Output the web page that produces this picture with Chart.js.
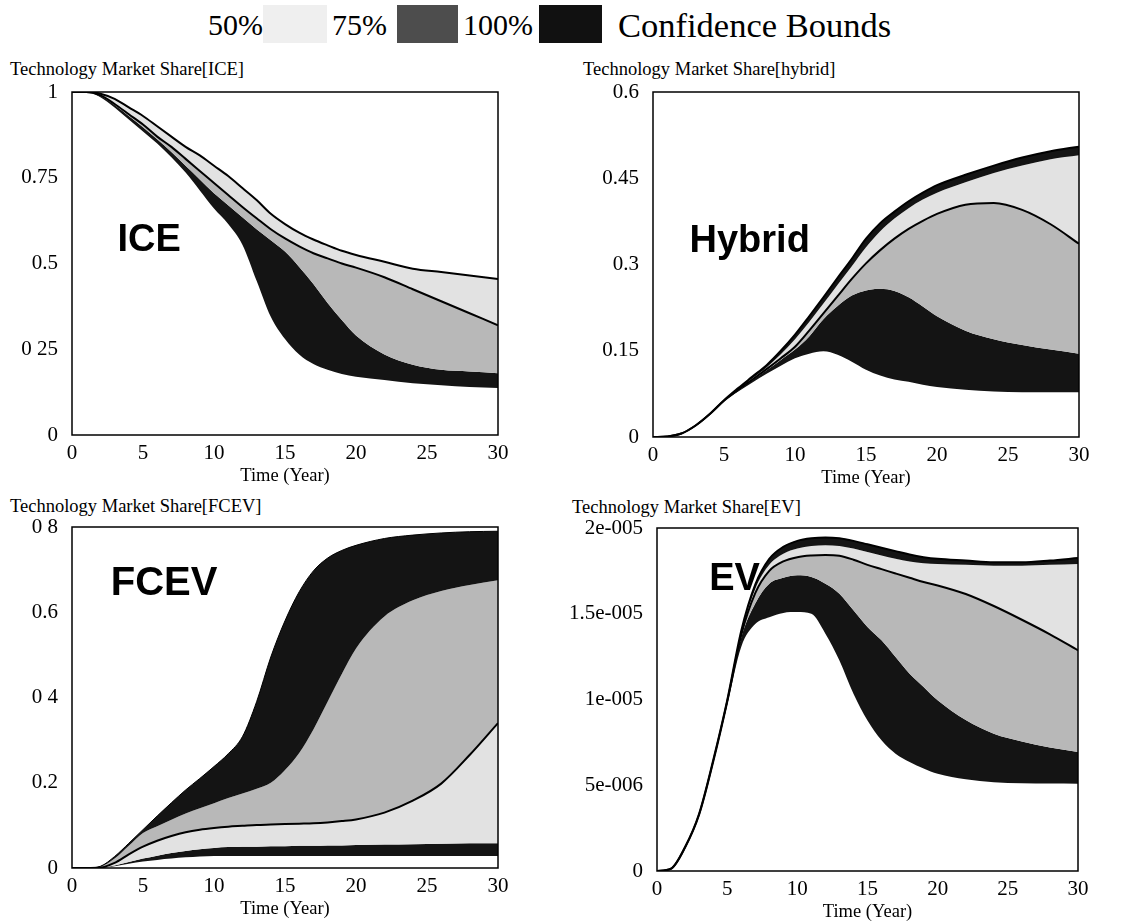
<!DOCTYPE html>
<html>
<head>
<meta charset="utf-8">
<script src="https://cdn.jsdelivr.net/npm/chart.js@4.4.1/dist/chart.umd.min.js"></script>
<style>
  body { margin: 0; background: #fff; width: 1137px; height: 924px; overflow: hidden; position: relative;
         font-family: "Liberation Serif", "Times New Roman", serif; color: #000; }
  .box { position: absolute; }
  .ptitle { position: absolute; font-size: 18.5px; line-height: 20px; white-space: nowrap; }
  .leg { position: absolute; top: 5px; font-size: 30px; line-height: 40px; white-space: nowrap; }
  .sw { position: absolute; top: 5px; height: 38px; }
</style>
</head>
<body>
<!-- legend -->
<div class="leg" style="left:208px">50%</div>
<div class="sw" style="left:263px;width:64px;background:#efefef"></div>
<div class="leg" style="left:332px">75%</div>
<div class="sw" style="left:397px;width:61px;background:#4d4d4d"></div>
<div class="leg" style="left:463px">100%</div>
<div class="sw" style="left:539px;width:63px;background:#111"></div>
<div class="leg" style="left:618px;font-size:34.5px">Confidence Bounds</div>

<div class="ptitle" style="left:10px;top:59px">Technology Market Share[ICE]</div>
<div class="ptitle" style="left:583px;top:59px">Technology Market Share[hybrid]</div>
<div class="ptitle" style="left:10px;top:496px">Technology Market Share[FCEV]</div>
<div class="ptitle" style="left:572px;top:497px">Technology Market Share[EV]</div>

<div class="box" style="left:0;top:80px;width:520px;height:410px"><canvas id="ice"></canvas></div>
<div class="box" style="left:560px;top:80px;width:540px;height:410px"><canvas id="hybrid"></canvas></div>
<div class="box" style="left:0;top:515px;width:520px;height:409px"><canvas id="fcev"></canvas></div>
<div class="box" style="left:560px;top:515px;width:540px;height:409px"><canvas id="ev"></canvas></div>

<script>
// time axis shared by every curve
const years = [0,1,2,3,4,5,6,7,8,9,10,11,12,13,14,15,16,17,18,19,20,22,24,26,28,30];

// ICE: upper bound, middle line, top of dark band, lower bound
const iceUpper    = [1.0,1.0,0.995,0.98,0.955,0.93,0.90,0.87,0.84,0.815,0.785,0.755,0.72,0.685,0.645,0.615,0.59,0.57,0.553,0.537,0.525,0.505,0.485,0.475,0.465,0.455];
const iceMid      = [1.0,1.0,0.99,0.965,0.935,0.905,0.87,0.84,0.805,0.77,0.735,0.70,0.665,0.632,0.60,0.573,0.55,0.53,0.515,0.50,0.488,0.46,0.425,0.39,0.355,0.32];
const iceBlackTop = [1.0,1.0,0.988,0.962,0.93,0.897,0.862,0.825,0.785,0.745,0.705,0.67,0.635,0.60,0.568,0.535,0.49,0.44,0.385,0.335,0.29,0.235,0.205,0.19,0.185,0.18];
const iceLower    = [1.0,1.0,0.985,0.955,0.92,0.885,0.85,0.81,0.765,0.713,0.66,0.615,0.555,0.45,0.345,0.28,0.235,0.207,0.19,0.178,0.17,0.16,0.151,0.145,0.14,0.137];

// hybrid
const hybUpper    = [0,0.001,0.006,0.02,0.04,0.064,0.085,0.105,0.125,0.15,0.178,0.21,0.243,0.277,0.31,0.345,0.372,0.392,0.41,0.425,0.438,0.456,0.472,0.486,0.497,0.505];
const hybBand     = [0,0.001,0.006,0.02,0.04,0.063,0.083,0.102,0.121,0.144,0.17,0.2,0.232,0.265,0.297,0.33,0.358,0.38,0.398,0.413,0.425,0.443,0.459,0.472,0.483,0.49];
const hybMid      = [0,0.001,0.006,0.02,0.04,0.063,0.082,0.1,0.118,0.137,0.157,0.185,0.215,0.245,0.275,0.302,0.325,0.345,0.362,0.376,0.388,0.404,0.407,0.395,0.37,0.336];
const hybBlackTop = [0,0.001,0.006,0.02,0.04,0.063,0.081,0.099,0.116,0.134,0.152,0.175,0.205,0.228,0.246,0.255,0.258,0.254,0.243,0.227,0.21,0.185,0.17,0.16,0.152,0.145];
const hybLower    = [0,0.001,0.006,0.02,0.04,0.062,0.079,0.095,0.11,0.124,0.137,0.145,0.149,0.143,0.131,0.117,0.107,0.1,0.096,0.091,0.087,0.082,0.079,0.078,0.078,0.078];

// FCEV
const fcUpper    = [0,0,0.004,0.027,0.058,0.09,0.122,0.153,0.183,0.21,0.238,0.268,0.308,0.39,0.495,0.58,0.648,0.697,0.727,0.745,0.757,0.773,0.781,0.786,0.789,0.79];
const fcBlackBot = [0,0,0.003,0.022,0.052,0.082,0.098,0.113,0.128,0.14,0.152,0.164,0.175,0.186,0.2,0.23,0.27,0.325,0.39,0.455,0.515,0.59,0.628,0.65,0.664,0.675];
const fcMid      = [0,0,0.001,0.012,0.032,0.05,0.064,0.075,0.084,0.09,0.094,0.097,0.099,0.101,0.102,0.103,0.104,0.105,0.107,0.11,0.114,0.13,0.158,0.198,0.265,0.34];
const fcLowTop   = [0,0,0.001,0.006,0.014,0.022,0.029,0.035,0.04,0.044,0.047,0.049,0.05,0.05,0.051,0.051,0.052,0.052,0.053,0.053,0.054,0.055,0.056,0.057,0.058,0.058];
const fcLower    = [0,0,0,0.004,0.01,0.015,0.019,0.022,0.025,0.027,0.028,0.028,0.028,0.028,0.028,0.028,0.028,0.028,0.028,0.028,0.028,0.028,0.028,0.028,0.028,0.028];

// EV, in units of 1e-5
const evUnit = 1e-5;
const evUpper    = [0,0.014,0.14,0.334,0.645,0.995,1.40,1.67,1.82,1.89,1.925,1.94,1.945,1.94,1.925,1.905,1.885,1.865,1.845,1.83,1.82,1.81,1.80,1.80,1.81,1.825];
const evBand     = [0,0.013,0.138,0.33,0.64,0.99,1.385,1.645,1.785,1.85,1.88,1.895,1.9,1.895,1.88,1.86,1.84,1.82,1.805,1.795,1.79,1.785,1.78,1.78,1.785,1.79];
const evMid      = [0,0.013,0.137,0.328,0.635,0.985,1.375,1.62,1.75,1.805,1.83,1.84,1.843,1.838,1.815,1.785,1.76,1.735,1.71,1.685,1.665,1.615,1.545,1.465,1.38,1.287];
const evBlackTop = [0,0.013,0.136,0.326,0.632,0.98,1.36,1.56,1.675,1.71,1.724,1.714,1.675,1.617,1.52,1.423,1.345,1.248,1.15,1.073,0.995,0.88,0.80,0.755,0.72,0.694];
const evLower    = [0,0.012,0.134,0.322,0.625,0.966,1.306,1.44,1.48,1.505,1.51,1.5,1.384,1.228,1.034,0.878,0.762,0.684,0.636,0.598,0.567,0.535,0.518,0.512,0.51,0.509];

// y tick values and their printed labels
const iceTicks = [0, 0.25, 0.5, 0.75, 1];
const iceTickLabels = ['0', '0 25', '0.5', '0.75', '1'];
const hybTicks = [0, 0.15, 0.3, 0.45, 0.6];
const hybTickLabels = ['0', '0.15', '0.3', '0.45', '0.6'];
const fcTicks = [0, 0.2, 0.4, 0.6, 0.8];
const fcTickLabels = ['0', '0.2', '0 4', '0.6', '0 8'];
const evTicks = [0, 5e-6, 1e-5, 1.5e-5, 2e-5];
const evTickLabels = ['0', '5e-006', '1e-005', '1.5e-005', '2e-005'];

const BLACK = '#141414', GREY = '#b8b8b8', LIGHT = '#e2e2e2';
const serif = '"Liberation Serif", "Times New Roman", serif';

const framePlugin = {
  id: 'frame',
  afterDatasetsDraw(chart) {
    const { ctx, chartArea: a } = chart;
    ctx.save();
    ctx.strokeStyle = '#000';
    ctx.lineWidth = 1.5;
    ctx.strokeRect(a.left, a.top, a.right - a.left, a.bottom - a.top);
    ctx.restore();
  }
};

const bigLabelPlugin = {
  id: 'bigLabel',
  afterDatasetsDraw(chart, args, opts) {
    const { ctx, scales } = chart;
    ctx.save();
    ctx.fillStyle = '#000';
    ctx.font = 'bold ' + opts.size + 'px "Liberation Sans", Arial, sans-serif';
    ctx.textBaseline = 'alphabetic';
    ctx.fillText(opts.text, scales.x.getPixelForValue(opts.x), scales.y.getPixelForValue(opts.y));
    ctx.restore();
  }
};

function makePanel(id, curves, looks, yTicks, yLabels, frame, label) {
  const datasets = curves.map((vals, i) => ({
    data: vals.map((v, k) => ({ x: years[k], y: v })),
    borderColor: '#000',
    borderWidth: looks[i].line,
    backgroundColor: looks[i].fill || 'transparent',
    fill: looks[i].fill ? '+1' : false,
    pointRadius: 0,
    cubicInterpolationMode: 'monotone'
  }));
  new Chart(document.getElementById(id), {
    type: 'line',
    data: { datasets },
    options: {
      animation: false,
      responsive: true,
      maintainAspectRatio: false,
      layout: { padding: frame.pad },
      plugins: {
        legend: { display: false },
        tooltip: { enabled: false },
        filler: { drawTime: 'beforeDatasetsDraw' },
        bigLabel: label
      },
      scales: {
        x: {
          type: 'linear', min: 0, max: 30,
          grid: { display: false, drawTicks: false },
          border: { display: false },
          ticks: { stepSize: 5, padding: 6, color: '#000', font: { family: serif, size: 21 } },
          title: { display: true, text: 'Time (Year)', color: '#000', padding: 0, font: { family: serif, size: 18.5 } },
          afterFit: s => { s.height = 52; s.paddingLeft = 0; s.paddingRight = 0; }
        },
        y: {
          min: 0, max: yTicks[yTicks.length - 1],
          grid: { display: false, drawTicks: false },
          border: { display: false },
          afterBuildTicks: s => { s.ticks = yTicks.map(v => ({ value: v })); },
          ticks: { padding: 14, color: '#000', font: { family: serif, size: 21 },
                   callback: (v, i) => yLabels[i] },
          afterFit: s => { s.width = frame.yw; s.paddingTop = 0; s.paddingBottom = 0; }
        }
      }
    },
    plugins: [framePlugin, bigLabelPlugin]
  });
}

makePanel('ice',
  [iceUpper, iceMid, iceBlackTop, iceLower],
  [{ line: 2, fill: LIGHT }, { line: 2, fill: GREY }, { line: 0, fill: BLACK }, { line: 0 }],
  iceTicks, iceTickLabels,
  { pad: { left: 0, top: 12, right: 22, bottom: 3 }, yw: 72 },
  { text: 'ICE', x: 3.2, y: 0.537, size: 38 });

makePanel('hybrid',
  [hybUpper, hybBand, hybMid, hybBlackTop, hybLower],
  [{ line: 2, fill: BLACK }, { line: 0, fill: LIGHT }, { line: 2, fill: GREY }, { line: 0, fill: BLACK }, { line: 0 }],
  hybTicks, hybTickLabels,
  { pad: { left: 0, top: 12, right: 21, bottom: 1 }, yw: 93 },
  { text: 'Hybrid', x: 2.57, y: 0.322, size: 38 });

makePanel('fcev',
  [fcUpper, fcBlackBot, fcMid, fcLowTop, fcLower],
  [{ line: 1, fill: BLACK }, { line: 0, fill: GREY }, { line: 2, fill: LIGHT }, { line: 0, fill: BLACK }, { line: 0 }],
  fcTicks, fcTickLabels,
  { pad: { left: 0, top: 12, right: 22, bottom: 4 }, yw: 72 },
  { text: 'FCEV', x: 2.73, y: 0.64, size: 40 });

makePanel('ev',
  [evUpper, evBand, evMid, evBlackTop, evLower].map(c => c.map(v => v * evUnit)),
  [{ line: 2, fill: BLACK }, { line: 0, fill: LIGHT }, { line: 2, fill: GREY }, { line: 0, fill: BLACK }, { line: 0 }],
  evTicks, evTickLabels,
  { pad: { left: 0, top: 13, right: 22, bottom: 1 }, yw: 97 },
  { text: 'EV', x: 3.72, y: 1.637 * evUnit, size: 38 });
</script>
</body>
</html>
